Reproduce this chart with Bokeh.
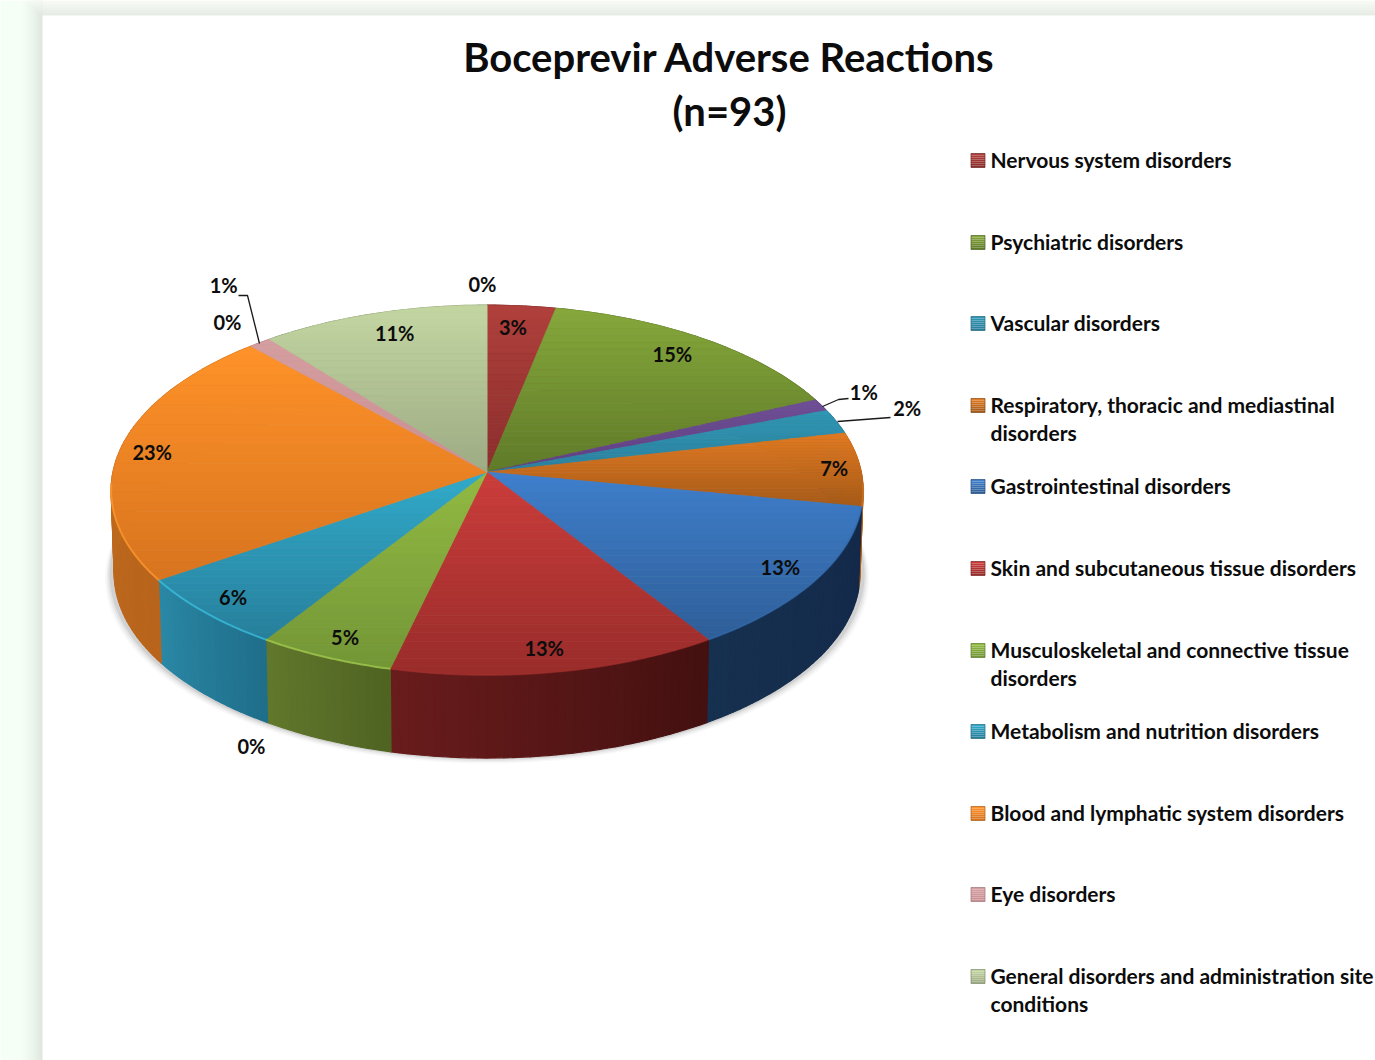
import math
from bokeh.plotting import figure
from bokeh.models import Range1d
from bokeh.core.properties import value
from bokeh.embed import file_html
from bokeh.resources import INLINE

# ---- data ----
title_lines = ["Boceprevir Adverse Reactions", "(n=93)"]
slice_names = ["Nervous system disorders", "Psychiatric disorders", "Unlisted", "Vascular disorders",
               "Respiratory, thoracic and mediastinal disorders", "Gastrointestinal disorders",
               "Skin and subcutaneous tissue disorders", "Musculoskeletal and connective tissue disorders",
               "Metabolism and nutrition disorders", "Blood and lymphatic system disorders",
               "Eye disorders", "General disorders and administration site conditions"]
counts = [3, 14, 1, 2, 6, 12, 12, 5, 6, 21, 1, 10]
pct_labels = ["3%", "15%", "1%", "2%", "7%", "13%", "13%", "5%", "6%", "23%", "1%", "11%"]
legend_entries = [["Nervous system disorders"], ["Psychiatric disorders"], ["Vascular disorders"],
                  ["Respiratory, thoracic and mediastinal", "disorders"], ["Gastrointestinal disorders"],
                  ["Skin and subcutaneous tissue disorders"], ["Musculoskeletal and connective tissue", "disorders"],
                  ["Metabolism and nutrition disorders"], ["Blood and lymphatic system disorders"],
                  ["Eye disorders"], ["General disorders and administration site", "conditions"]]
legend_slice = [0, 1, 3, 4, 5, 6, 7, 8, 9, 10, 11]
zero_labels = ["0%", "0%", "0%"]

# ---- styling / layout ----
FONT = value("Lato")
top_light = ["#b0403c", "#86a83c", "#6f4f96", "#3097b4", "#e17a22", "#3f7fcc", "#cb3d3b", "#92ba42", "#32aaca", "#ff9229", "#d59ea0", "#c3d6a2"]
top_dark = ["#8a2e2c", "#5f7a28", "#5f4080", "#2a7f9c", "#a55a18", "#2e5e98", "#992c2a", "#739636", "#267f9b", "#d8741e", "#c98f92", "#9dab83"]
wall_a = ["#6a1c1c", "#506622", "#4a2f66", "#1d6a84", "#b0601a", "#14294a", "#431010", "#4f6322", "#1f6e8a", "#b8641c", "#a07476", "#7f8f66"]
wall_b = ["#6a1c1c", "#506622", "#4a2f66", "#1d6a84", "#b0601a", "#16304f", "#6a1c1c", "#62782c", "#2a88a6", "#c4701f", "#a07476", "#7f8f66"]
rim = ["#b0403c", "#86a83c", "#6f4f96", "#3097b4", "#c87020", "#3670b4", "#a83432", "#a4cc50", "#3cc0e0", "#ff9a30", "#d59ea0", "#c3d6a2"]
rim_alpha = [0.75, 0.75, 0.75, 0.75, 0.75, 0.5, 0.35, 0.75, 0.75, 0.75, 0.75, 0.75]
label_r = [0.855, 0.863, 1.143, 1.214, 0.929, 0.898, 0.894, 0.903, 0.906, 0.91, 1.37, 0.855]
label_dtheta = [-0.8, -1.0, -0.9, -0.5, 0, 0, 0.7, -0.5, 0.1, -0.2, 5.9, 1.2]
CX, CY, K, A, B, DEPTH = 486.6, 471.6, 0.0973, 374.2, 183.2, 83.0


def project(theta, r=1.0):
    u, v = r * math.sin(theta), r * math.cos(theta)
    w = 1 + K * v
    return CX + A * u / w, CY - B * v / w


def lerp(c1, c2, t):
    a = [int(c1[i:i + 2], 16) for i in (1, 3, 5)]
    b = [int(c2[i:i + 2], 16) for i in (1, 3, 5)]
    return "#%02x%02x%02x" % tuple(round(x + (y - x) * t) for x, y in zip(a, b))


def clip_band(poly, y0, y1):
    def clip(pts, keep, cross):
        out = []
        for i, p in enumerate(pts):
            q = pts[(i + 1) % len(pts)]
            if keep(p):
                out.append(p)
            if keep(p) != keep(q):
                t = (cross - p[1]) / (q[1] - p[1])
                out.append((p[0] + (q[0] - p[0]) * t, cross))
        return out
    res = clip(poly, lambda p: p[1] >= y0, y0)
    return clip(res, lambda p: p[1] <= y1, y1) if res else []


p = figure(width=1375, height=1060, x_range=Range1d(0, 1375), y_range=Range1d(1060, 0),
           x_axis_type=None, y_axis_type=None, toolbar_location=None, output_backend="svg",
           min_border=0, outline_line_color=None, background_fill_color="#ffffff",
           border_fill_color="#ffffff")
p.grid.visible = False

# page background with the panel's soft shadow
N = 21
for i in range(N):
    t = i / (N - 1)
    c = lerp("#f6fff6", "#dfe7df", max(0, (t - 0.45) / 0.55) ** 1.6)
    x0 = 42 * i / N
    p.quad(left=x0, right=x0 + 42 / N + 0.5, top=0, bottom=1060, color=c, line_color=None)
for i in range(15):
    c = lerp("#f6fbf3", "#e3e8e1", i / 14)
    p.quad(left=42 - (15 - i), right=1375, top=i, bottom=i + 1.2, color=c, line_color=None)
p.quad(left=42, right=1375, top=15, bottom=1060, color="#ffffff", line_color=None)

# slice boundaries
total = sum(counts)
bounds, acc = [0.0], 0
for c in counts:
    acc += c
    bounds.append(2 * math.pi * acc / total)

# soft shadow under the base
circle = [project(2 * math.pi * i / 240) for i in range(240)]
for grow, alpha in [(6, 0.03), (4.5, 0.05), (3, 0.07), (1.5, 0.11)]:
    xs = [CX + (x - CX) * (1 + grow / 376) for x, y in circle]
    ys = [y + DEPTH + grow * 0.9 for x, y in circle]
    p.patch(xs, ys, fill_color="#404040", fill_alpha=alpha, line_color=None)

# side wall
wx, wy, wc = [], [], []
for i in range(len(counts)):
    a0, a1 = bounds[i], bounds[i + 1]
    n = max(2, int((a1 - a0) / math.radians(1.2)))
    for j in range(n):
        t0 = a0 + (a1 - a0) * j / n
        t1 = a0 + (a1 - a0) * (j + 1) / n
        x0, y0 = project(t0)
        x1, y1 = project(t1)
        sh = 0.992
        wx.append([x0, x1, CX + (x1 - CX) * sh, CX + (x0 - CX) * sh])
        wy.append([y0, y1, y1 + DEPTH, y0 + DEPTH])
        c = lerp(wall_a[i], wall_b[i], (j + 0.5) / n)
        wc.append(c)
p.patches(wx, wy, fill_color=wc, line_color=wc, line_width=1.2)

# top face with a vertical gradient in each slice
tx, ty, tc = [], [], []
for i in range(len(counts)):
    a0, a1 = bounds[i], bounds[i + 1]
    n = max(8, int((a1 - a0) / math.radians(1)))
    poly = [(CX, CY)] + [project(a0 + (a1 - a0) * j / n) for j in range(n + 1)]
    ymin = min(q[1] for q in poly)
    ymax = max(q[1] for q in poly)
    bands = 24
    for b in range(bands):
        y0 = ymin + (ymax - ymin) * b / bands
        y1 = ymin + (ymax - ymin) * (b + 1) / bands
        piece = clip_band(poly, y0, y1)
        if len(piece) >= 3:
            tx.append([q[0] for q in piece])
            ty.append([q[1] for q in piece])
            tc.append(lerp(top_light[i], top_dark[i], (b + 0.5) / bands))
p.patches(tx, ty, fill_color=tc, line_color=tc, line_width=0.7)

# bright rim on the near edge
for i in range(len(counts)):
    a0, a1 = max(bounds[i], math.pi * 0.52), min(bounds[i + 1], math.pi * 1.48)
    if a1 > a0:
        n = 40
        pts = [project(a0 + (a1 - a0) * j / n) for j in range(n + 1)]
        p.line([q[0] for q in pts], [q[1] for q in pts], line_color=rim[i], line_width=2, line_alpha=rim_alpha[i])

# percentage labels
lx, ly = [], []
for i in range(len(counts)):
    mid = (bounds[i] + bounds[i + 1]) / 2 + math.radians(label_dtheta[i])
    x, y = project(mid, label_r[i])
    lx.append(x)
    ly.append(y - 1.2)
p.text(lx, ly, text=pct_labels, text_font=FONT, text_font_style="bold", text_font_size="20px",
       text_align="center", text_baseline="middle", text_color="#0c0c0c")
p.text([482, 227, 251], [283.5, 321.5, 745.5], text=zero_labels, text_font=FONT, text_font_style="bold",
       text_font_size="20px", text_align="center", text_baseline="middle", text_color="#0c0c0c")

# leader lines
for xs, ys in [([822, 838, 848], [406, 399, 398]), ([837, 890], [421, 417]), ([259, 247, 238], [343, 295, 295])]:
    p.line(xs, ys, line_color="#1a1a1a", line_width=1.3)

# title
p.text([729, 729], [56, 110], text=title_lines, text_font=FONT, text_font_style="bold", text_font_size="40px",
       text_align="center", text_baseline="middle", text_color="#0c0c0c")

# legend
row_ys = [160, 242, 323, 405, 486, 568, 650, 731, 813, 894, 976]
for entry, sl, ry in zip(legend_entries, legend_slice, row_ys):
    steps = 7
    for s in range(steps):
        c = lerp(top_light[sl], top_dark[sl], s / (steps - 1))
        p.quad(left=970.5, right=984.5, top=ry - 7 + 2 * s, bottom=ry - 5 + 2 * s, color=c, line_color=None)
    edge = lerp(top_dark[sl], "#000000", 0.2)
    p.quad(left=970.5, right=984.5, top=ry - 7, bottom=ry + 7, fill_color=None, line_color=edge, line_width=1, line_alpha=0.7)
    for k, line in enumerate(entry):
        p.text([990], [ry - 1.5 + 28 * k], text=[line], text_font=FONT, text_font_style="bold", text_font_size="21px",
               text_align="left", text_baseline="middle", text_color="#0c0c0c")

open("out.html", "w").write(file_html(p, INLINE))
